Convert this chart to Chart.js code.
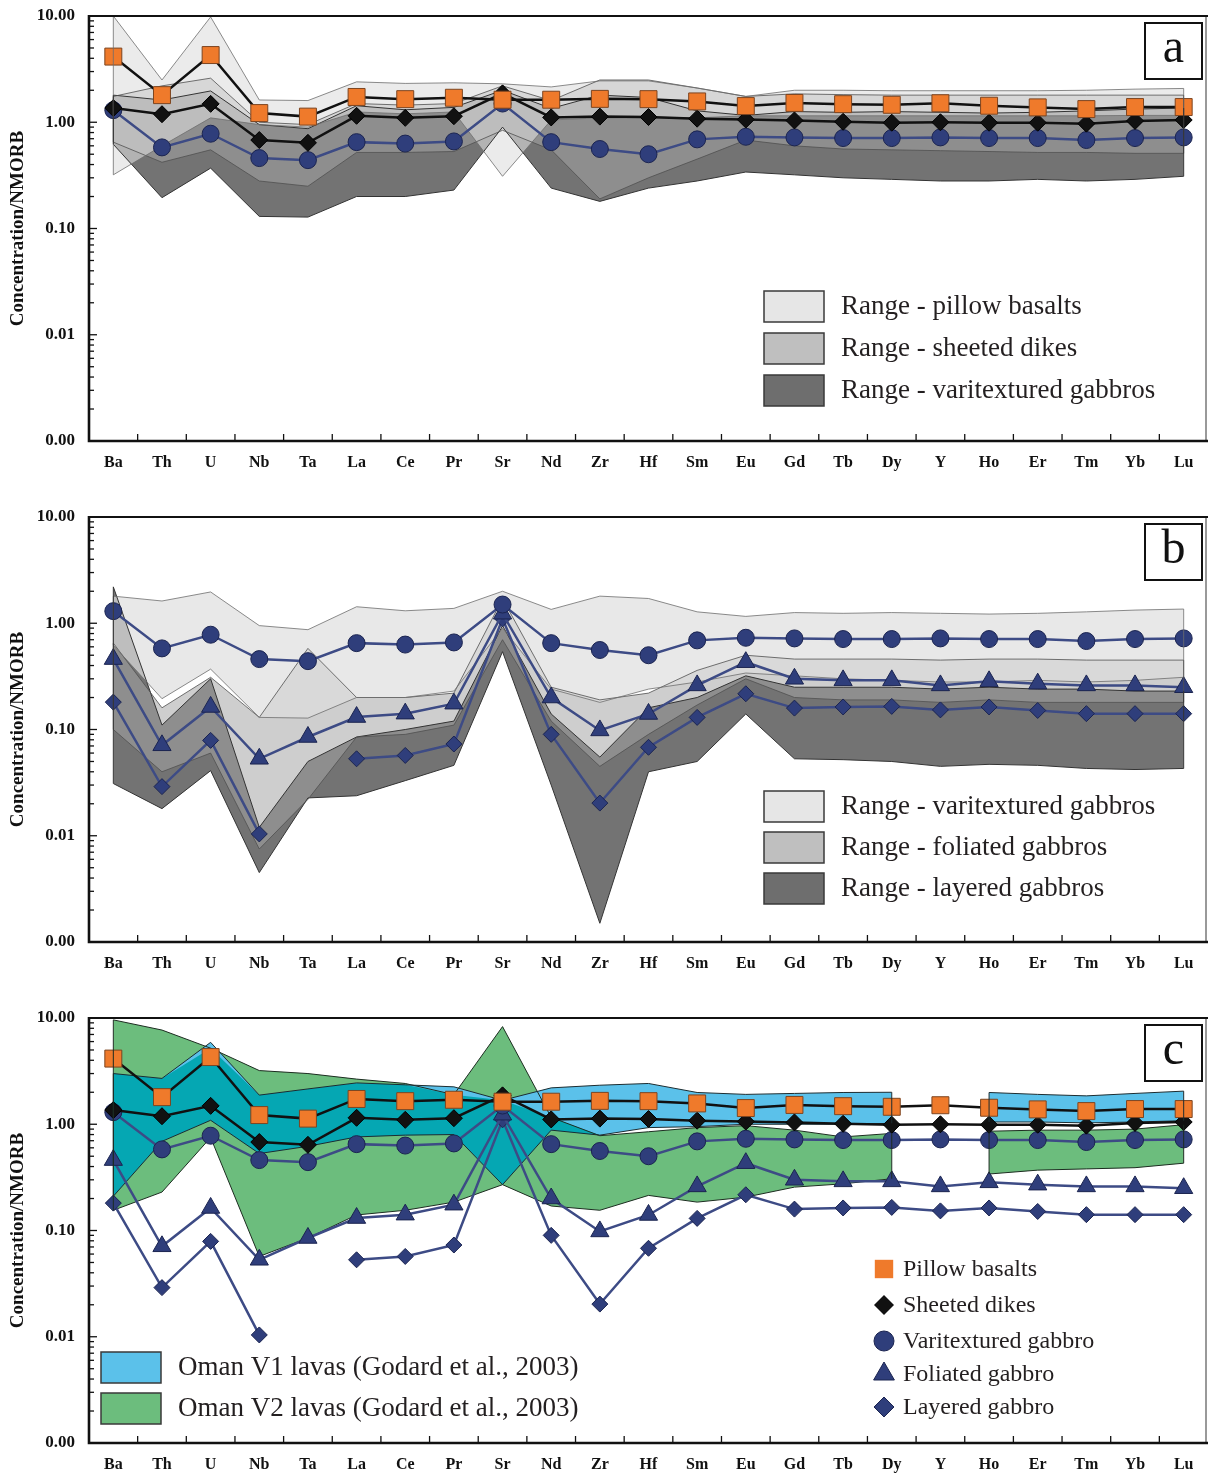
<!DOCTYPE html>
<html lang="en">
<head>
    <title>NMORB-normalised trace element patterns</title>
    <script src="https://cdn.jsdelivr.net/npm/chart.js"></script>
    <style>
        body { margin: 0; background: #fff; }
        canvas { display: block; }
    </style>
</head>
<body>
    <canvas id="panelA" width="1208" height="501"></canvas>
    <canvas id="panelB" width="1208" height="501"></canvas>
    <canvas id="panelC" width="1208" height="472"></canvas>

    <script>
        const elements = ['Ba', 'Th', 'U', 'Nb', 'Ta', 'La', 'Ce', 'Pr', 'Sr', 'Nd', 'Zr', 'Hf', 'Sm', 'Eu', 'Gd', 'Tb', 'Dy', 'Y', 'Ho', 'Er', 'Tm', 'Yb', 'Lu'];
        const yTickValues = [10, 1, 0.1, 0.01, 0.001];

        // average patterns
        const pillowBasalts = [4.15, 1.80, 4.29, 1.22, 1.13, 1.73, 1.65, 1.70, 1.63, 1.63, 1.66, 1.65, 1.57, 1.42, 1.52, 1.48, 1.46, 1.51, 1.43, 1.38, 1.33, 1.39, 1.39];
        const sheetedDikes = [1.36, 1.19, 1.49, 0.68, 0.64, 1.15, 1.10, 1.14, 1.87, 1.11, 1.13, 1.12, 1.08, 1.06, 1.04, 1.01, 0.99, 1.00, 0.99, 0.99, 0.97, 1.03, 1.05];
        const varitexturedGabbro = [1.30, 0.58, 0.78, 0.46, 0.44, 0.65, 0.63, 0.66, 1.50, 0.65, 0.56, 0.50, 0.69, 0.73, 0.72, 0.71, 0.71, 0.72, 0.71, 0.71, 0.68, 0.71, 0.72];
        const foliatedGabbro = [0.46, 0.071, 0.163, 0.053, 0.085, 0.131, 0.141, 0.175, 1.23, 0.20, 0.098, 0.14, 0.26, 0.43, 0.30, 0.29, 0.29, 0.26, 0.284, 0.27, 0.26, 0.26, 0.25];
        const layeredGabbro = [0.181, 0.029, 0.079, 0.0104, null, 0.053, 0.057, 0.073, 1.10, 0.090, 0.0203, 0.068, 0.13, 0.217, 0.159, 0.163, 0.165, 0.153, 0.163, 0.151, 0.141, 0.141, 0.141];

        // ranges (max / min)
        const pillowMax = [10, 2.5, 9.8, 1.62, 1.6, 2.4, 2.32, 2.35, 2.3, 2.15, 2.45, 2.45, 2.1, 1.75, 2.0, 2.0, 1.98, 1.98, 1.98, 1.98, 2.0, 2.05, 2.08];
        const pillowMin = [0.32, 0.6, 1.1, 0.95, 0.9, 1.25, 1.2, 1.25, 0.31, 1.05, 1.1, 1.1, 1.1, 1.15, 1.15, 1.15, 1.15, 1.15, 1.15, 1.15, 1.15, 1.16, 1.16];
        const dikesMax = [1.75, 2.2, 2.6, 1.0, 0.95, 1.5, 1.45, 1.5, 2.2, 1.6, 2.5, 2.5, 2.1, 1.75, 1.85, 1.82, 1.8, 1.8, 1.8, 1.8, 1.8, 1.8, 1.8];
        const dikesMin = [0.65, 0.42, 0.55, 0.28, 0.25, 0.52, 0.52, 0.53, 0.84, 0.55, 0.19, 0.3, 0.45, 0.68, 0.6, 0.56, 0.55, 0.54, 0.53, 0.52, 0.52, 0.51, 0.51];
        const varitexturedMax = [1.8, 1.62, 1.97, 0.95, 0.87, 1.43, 1.31, 1.38, 2.0, 1.35, 1.8, 1.71, 1.28, 1.16, 1.26, 1.24, 1.26, 1.24, 1.22, 1.24, 1.28, 1.33, 1.36];
        const varitexturedMin = [0.62, 0.195, 0.37, 0.13, 0.128, 0.2, 0.2, 0.23, 0.9, 0.24, 0.18, 0.24, 0.28, 0.34, 0.32, 0.3, 0.29, 0.28, 0.28, 0.29, 0.28, 0.29, 0.31];
        const foliatedMax = [0.65, 0.16, 0.31, 0.13, 0.58, 0.2, 0.2, 0.22, 1.7, 0.25, 0.19, 0.22, 0.36, 0.5, 0.46, 0.46, 0.46, 0.45, 0.46, 0.46, 0.45, 0.45, 0.45];
        const foliatedMin = [0.1, 0.04, 0.06, 0.0075, 0.022, 0.085, 0.09, 0.11, 0.7, 0.12, 0.045, 0.09, 0.17, 0.3, 0.2, 0.19, 0.19, 0.18, 0.19, 0.18, 0.18, 0.18, 0.18];
        const layeredMax = [2.2, 0.11, 0.3, 0.012, 0.05, 0.085, 0.1, 0.12, 0.95, 0.14, 0.055, 0.16, 0.2, 0.32, 0.25, 0.25, 0.25, 0.24, 0.25, 0.24, 0.24, 0.23, 0.23];
        const layeredMin = [0.031, 0.018, 0.041, 0.0045, 0.0227, 0.0238, 0.033, 0.046, 0.54, 0.03, 0.0015, 0.04, 0.05, 0.14, 0.053, 0.052, 0.05, 0.045, 0.047, 0.046, 0.043, 0.042, 0.043];

        // Oman lavas (Godard et al., 2003), no Y data
        const omanV1Max = [3.0, 2.7, 5.9, 1.88, 2.15, 2.45, 2.35, 2.25, 1.68, 2.2, 2.33, 2.42, 1.99, 1.91, 1.95, 1.99, 2.0, null, 1.99, 1.91, 1.85, 1.95, 2.05];
        const omanV1Min = [0.21, 0.69, 1.09, 0.53, 0.62, 0.76, 0.79, 0.8, 0.27, 0.88, 0.79, 0.93, 0.95, 1.0, 1.0, 1.0, 1.02, null, 1.05, 1.05, 1.03, 1.05, 1.08];
        const omanV2Max = [9.6, 7.7, 5.2, 3.2, 3.0, 2.66, 2.42, 1.9, 8.3, 1.16, 0.78, 0.85, 0.93, 0.97, 0.88, 0.76, 0.82, null, 0.86, 0.88, 0.88, 0.9, 0.99];
        const omanV2Min = [0.155, 0.23, 0.75, 0.057, 0.085, 0.14, 0.155, 0.185, 0.27, 0.17, 0.155, 0.214, 0.185, 0.206, 0.256, 0.275, 0.307, null, 0.34, 0.37, 0.38, 0.39, 0.43];

        // where V1 and V2 overlap (teal)
        const overlapMax = omanV1Max.map((v, i) => v === null ? null : Math.max(Math.min(v, omanV2Max[i]), Math.max(omanV1Min[i], omanV2Min[i])));
        const overlapMin = omanV1Min.map((v, i) => v === null ? null : Math.max(v, omanV2Min[i]));

        const serif = 'Liberation Serif';
        const navy = '#2f3e7b';
        const navyLine = '#3d4b85';

        function series(label, data, style, radius, fillColor, pointBorder, lineColor) {
            return {
                label: label, data: data,
                pointStyle: style, pointRadius: radius,
                pointBackgroundColor: fillColor, pointBorderColor: pointBorder, pointBorderWidth: 1,
                borderColor: lineColor, borderWidth: 2.5, fill: false
            };
        }

        function band(label, hi, lo, fillColor, lineColor, lineWidth) {
            return [
                { label: label + ' max', data: hi, fill: '+1', backgroundColor: fillColor, borderColor: lineColor, borderWidth: lineWidth, pointRadius: 0 },
                { label: label + ' min', data: lo, fill: false, borderColor: lineColor, borderWidth: lineWidth, pointRadius: 0 }
            ];
        }

        const pillowSeries = () => series('Pillow basalts', pillowBasalts, 'rect', 12, '#ef7a2b', '#7d4520', '#111');
        const dikesSeries = () => series('Sheeted dikes', sheetedDikes, 'rectRot', 8.5, '#111', '#000', '#111');
        const varSeries = () => series('Varitextured gabbro', varitexturedGabbro, 'circle', 8.5, navy, '#1b2450', navyLine);
        const foliatedSeries = () => series('Foliated gabbro', foliatedGabbro, 'triangle', 10.5, navy, '#1b2450', navyLine);
        const layeredSeries = () => series('Layered gabbro', layeredGabbro, 'rectRot', 8, navy, '#1b2450', navyLine);

        function drawFrame(chart, letter, bands) {
            const { ctx, chartArea: a, scales: { x, y } } = chart;
            ctx.save();

            // vertical edges of the range polygons
            bands.forEach(b => {
                ctx.strokeStyle = b.color;
                ctx.lineWidth = 1;
                b.hi.forEach((v, i) => {
                    if (v === null) return;
                    const first = i === 0 || b.hi[i - 1] === null;
                    const last = i === b.hi.length - 1 || b.hi[i + 1] === null;
                    if (!first && !last) return;
                    const px = x.getPixelForValue(i);
                    ctx.beginPath();
                    ctx.moveTo(px, y.getPixelForValue(v));
                    ctx.lineTo(px, y.getPixelForValue(b.lo[i]));
                    ctx.stroke();
                });
            });

            // inward ticks on the log axis
            ctx.strokeStyle = '#111';
            ctx.lineWidth = 1.3;
            yTickValues.forEach(d => {
                for (let k = 1; k < 10; k++) {
                    if (d === 10 && k > 1) continue;
                    const py = y.getPixelForValue(d * k);
                    ctx.beginPath();
                    ctx.moveTo(a.left, py);
                    ctx.lineTo(a.left + (k === 1 ? 8 : 5), py);
                    ctx.stroke();
                }
            });
            // category ticks between elements
            for (let i = 1; i < elements.length; i++) {
                const px = (x.getPixelForValue(i - 1) + x.getPixelForValue(i)) / 2;
                ctx.beginPath();
                ctx.moveTo(px, a.bottom);
                ctx.lineTo(px, a.bottom - 7);
                ctx.stroke();
            }

            // frame
            ctx.lineWidth = 1.2;
            ctx.strokeStyle = '#555';
            ctx.beginPath();
            ctx.moveTo(a.right - 2, a.top);
            ctx.lineTo(a.right - 2, a.bottom);
            ctx.stroke();
            ctx.strokeStyle = '#111';
            ctx.lineWidth = 2;
            ctx.beginPath();
            ctx.moveTo(a.left, a.top);
            ctx.lineTo(a.right, a.top);
            ctx.stroke();
            ctx.lineWidth = 2.6;
            ctx.beginPath();
            ctx.moveTo(a.left, a.top - 1);
            ctx.lineTo(a.left, a.bottom);
            ctx.lineTo(a.right, a.bottom);
            ctx.stroke();

            // panel letter
            ctx.fillStyle = '#fff';
            ctx.fillRect(a.right - 63, a.top + 7, 57, 56);
            ctx.lineWidth = 2;
            ctx.strokeRect(a.right - 63, a.top + 7, 57, 56);
            ctx.fillStyle = '#111';
            ctx.font = '48px "' + serif + '"';
            ctx.textAlign = 'center';
            ctx.textBaseline = 'middle';
            ctx.fillText(letter, a.right - 34.5, a.top + 33);

            // y title
            ctx.translate(18, (a.top + a.bottom) / 2);
            ctx.rotate(-Math.PI / 2);
            ctx.font = 'bold 19px "' + serif + '"';
            ctx.fillText('Concentration/NMORB', 0, 0);
            ctx.restore();
        }

        function drawSwatchLegend(ctx, items, left, tops) {
            ctx.save();
            ctx.font = '27px "' + serif + '"';
            ctx.textAlign = 'left';
            ctx.textBaseline = 'middle';
            items.forEach((it, i) => {
                ctx.fillStyle = it.color;
                ctx.fillRect(left, tops[i], 60, 31);
                ctx.strokeStyle = '#3a3a3a';
                ctx.lineWidth = 1.5;
                ctx.strokeRect(left, tops[i], 60, 31);
                ctx.fillStyle = '#231f20';
                ctx.fillText(it.text, left + 77, tops[i] + 16);
            });
            ctx.restore();
        }

        function noPadding(s) {
            s.paddingTop = 0;
            s.paddingBottom = 0;
            s.paddingLeft = 0;
            s.paddingRight = 0;
        }

        function baseOptions(canvasHeight) {
            return {
                responsive: false,
                animation: false,
                events: [],
                layout: { autoPadding: false, padding: { top: 16, left: 0, right: 0, bottom: 0 } },
                plugins: {
                    legend: { display: false },
                    tooltip: { enabled: false },
                    filler: { drawTime: 'beforeDatasetsDraw' }
                },
                elements: { line: { tension: 0 } },
                scales: {
                    x: {
                        type: 'category',
                        offset: true,
                        grid: { display: false, drawTicks: false },
                        border: { display: false },
                        ticks: { color: '#111', font: { family: serif, weight: 'bold', size: 16 }, padding: 12, autoSkip: false, maxRotation: 0 },
                        afterFit: s => { s.height = canvasHeight - 441; noPadding(s); }
                    },
                    y: {
                        type: 'logarithmic',
                        min: 0.001,
                        max: 10,
                        grid: { display: false, drawTicks: false },
                        border: { display: false },
                        afterBuildTicks: s => { s.ticks = yTickValues.map(v => ({ value: v })); },
                        ticks: { color: '#111', font: { family: serif, weight: 'bold', size: 17 }, padding: 14, callback: v => v.toFixed(2) },
                        afterFit: s => { s.width = 89; noPadding(s); }
                    }
                }
            };
        }

        // Panel a
        new Chart(document.getElementById('panelA'), {
            type: 'line',
            data: {
                labels: elements,
                datasets: [
                    pillowSeries(), dikesSeries(), varSeries(),
                    ...band('Range - pillow basalts', pillowMax, pillowMin, 'rgba(222,222,222,0.6)', 'rgba(110,110,110,0.8)', 1),
                    ...band('Range - sheeted dikes', dikesMax, dikesMin, 'rgba(165,165,165,0.55)', 'rgba(80,80,80,0.8)', 1),
                    ...band('Range - varitextured gabbros', varitexturedMax, varitexturedMin, 'rgba(100,100,100,0.9)', '#333', 1)
                ]
            },
            options: baseOptions(501),
            plugins: [{
                id: 'decorA',
                afterDraw(chart) {
                    drawFrame(chart, 'a', [
                        { hi: pillowMax, lo: pillowMin, color: 'rgba(110,110,110,0.8)' },
                        { hi: dikesMax, lo: dikesMin, color: 'rgba(80,80,80,0.8)' },
                        { hi: varitexturedMax, lo: varitexturedMin, color: '#333' }
                    ]);
                    drawSwatchLegend(chart.ctx, [
                        { color: '#e6e6e6', text: 'Range - pillow basalts' },
                        { color: '#bfbfbf', text: 'Range - sheeted dikes' },
                        { color: '#6e6e6e', text: 'Range - varitextured gabbros' }
                    ], 764, [291, 333, 375]);
                }
            }]
        });

        // Panel b
        new Chart(document.getElementById('panelB'), {
            type: 'line',
            data: {
                labels: elements,
                datasets: [
                    varSeries(), foliatedSeries(), layeredSeries(),
                    ...band('Range - varitextured gabbros', varitexturedMax, varitexturedMin, 'rgba(222,222,222,0.7)', 'rgba(110,110,110,0.8)', 1),
                    ...band('Range - foliated gabbros', foliatedMax, foliatedMin, 'rgba(165,165,165,0.55)', 'rgba(80,80,80,0.8)', 1),
                    ...band('Range - layered gabbros', layeredMax, layeredMin, 'rgba(100,100,100,0.9)', '#333', 1)
                ]
            },
            options: baseOptions(501),
            plugins: [{
                id: 'decorB',
                afterDraw(chart) {
                    drawFrame(chart, 'b', [
                        { hi: varitexturedMax, lo: varitexturedMin, color: 'rgba(110,110,110,0.8)' },
                        { hi: foliatedMax, lo: foliatedMin, color: 'rgba(80,80,80,0.8)' },
                        { hi: layeredMax, lo: layeredMin, color: '#333' }
                    ]);
                    drawSwatchLegend(chart.ctx, [
                        { color: '#e6e6e6', text: 'Range - varitextured gabbros' },
                        { color: '#bfbfbf', text: 'Range - foliated gabbros' },
                        { color: '#6e6e6e', text: 'Range - layered gabbros' }
                    ], 764, [290, 331, 372]);
                }
            }]
        });

        // Panel c
        const markerLegend = [
            { text: 'Pillow basalts', style: 'rect', radius: 13, color: '#ef7a2b', border: 0 },
            { text: 'Sheeted dikes', style: 'rectRot', radius: 10, color: '#111', border: 0 },
            { text: 'Varitextured gabbro', style: 'circle', radius: 10, color: navy, border: 1 },
            { text: 'Foliated gabbro', style: 'triangle', radius: 12, color: navy, border: 1 },
            { text: 'Layered gabbro', style: 'rectRot', radius: 10, color: navy, border: 1 }
        ];
        new Chart(document.getElementById('panelC'), {
            type: 'line',
            data: {
                labels: elements,
                datasets: [
                    pillowSeries(), dikesSeries(), varSeries(), foliatedSeries(), layeredSeries(),
                    ...band('V1 and V2 overlap', overlapMax, overlapMin, '#05a7b3', 'rgba(0,0,0,0)', 0),
                    ...band('Oman V1 lavas', omanV1Max, omanV1Min, '#5bc1ea', '#1c2c30', 1),
                    ...band('Oman V2 lavas', omanV2Max, omanV2Min, '#6cbd7d', '#1c2c20', 1)
                ]
            },
            options: baseOptions(472),
            plugins: [{
                id: 'decorC',
                afterDraw(chart) {
                    const ctx = chart.ctx;
                    drawFrame(chart, 'c', [
                        { hi: omanV1Max, lo: omanV1Min, color: '#1c2c30' },
                        { hi: omanV2Max, lo: omanV2Min, color: '#1c2c20' }
                    ]);
                    drawSwatchLegend(ctx, [
                        { color: '#5bc1ea', text: 'Oman V1 lavas (Godard et al., 2003)' },
                        { color: '#6cbd7d', text: 'Oman V2 lavas (Godard et al., 2003)' }
                    ], 101, [350, 391]);
                    ctx.save();
                    ctx.font = '24px "' + serif + '"';
                    ctx.textAlign = 'left';
                    ctx.textBaseline = 'middle';
                    const rows = [267, 303, 339, 372, 405];
                    markerLegend.forEach((m, i) => {
                        ctx.fillStyle = m.color;
                        ctx.strokeStyle = '#1b2450';
                        ctx.lineWidth = m.border;
                        Chart.helpers.drawPoint(ctx, { pointStyle: m.style, radius: m.radius, rotation: 0, borderWidth: m.border }, 884, rows[i]);
                        ctx.fillStyle = '#231f20';
                        ctx.fillText(m.text, 903, rows[i] + 1);
                    });
                    ctx.restore();
                }
            }]
        });
    </script>
</body>
</html>
